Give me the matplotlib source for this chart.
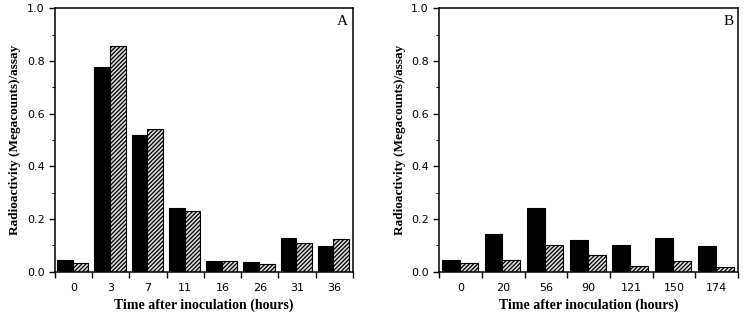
import numpy as np
import matplotlib.pyplot as plt
from matplotlib.ticker import MultipleLocator

# panel A
times_a = ["0", "3", "7", "11", "16", "26", "31", "36"]
solid_a = [0.045, 0.775, 0.520, 0.243, 0.042, 0.037, 0.128, 0.098]
hatched_a = [0.032, 0.855, 0.540, 0.230, 0.042, 0.028, 0.108, 0.125]

# panel B
times_b = ["0", "20", "56", "90", "121", "150", "174"]
solid_b = [0.045, 0.143, 0.243, 0.122, 0.102, 0.128, 0.098]
hatched_b = [0.032, 0.044, 0.102, 0.062, 0.022, 0.040, 0.018]

plt.rcParams['hatch.linewidth'] = 0.9
plt.rcParams['hatch.color'] = '#222222'

fig = plt.figure(figsize=(7.52, 3.21), dpi=100)
ax_a = fig.add_axes([0.0731, 0.1536, 0.396, 0.821])
ax_b = fig.add_axes([0.5842, 0.1536, 0.397, 0.821])


def draw_panel(ax, labels, solid, hatched, letter):
    x = np.arange(len(labels))
    w = 0.42
    ax.bar(x - 0.44, solid, width=w, align='edge', color='black', edgecolor='black', linewidth=0.8)
    ax.bar(x - 0.02, hatched, width=w, align='edge', color='#d8d8d8', edgecolor='black',
           hatch='////////', linewidth=0.8)

    ax.set_xlim(-0.5, len(labels) - 0.5)
    ax.set_ylim(0, 1.0)

    # x ticks sit on the group boundaries, labels in the middle
    ax.set_xticks(np.arange(len(labels) + 1) - 0.5)
    ax.set_xticklabels([])
    ax.set_xticks(x, minor=True)
    ax.set_xticklabels(labels, minor=True, fontsize=8, family='DejaVu Sans')
    ax.tick_params(axis='x', which='major', direction='out', length=4, width=1)
    ax.tick_params(axis='x', which='minor', length=0, pad=8)

    ax.yaxis.set_major_locator(MultipleLocator(0.2))
    ax.yaxis.set_minor_locator(MultipleLocator(0.1))
    ax.yaxis.set_ticks(np.arange(0, 1.01, 0.2))
    ax.set_yticklabels([f"{v:.1f}" for v in np.arange(0, 1.01, 0.2)], fontsize=8, family='DejaVu Sans')
    ax.tick_params(axis='y', which='major', direction='out', length=4, width=1)
    ax.tick_params(axis='y', which='minor', direction='out', length=2.5, width=0.8)

    for s in ax.spines.values():
        s.set_linewidth(1.1)

    ax.set_xlabel("Time after inoculation (hours)", family='Liberation Serif',
                  fontweight='bold', fontsize=10, labelpad=4)
    ax.set_ylabel("Radioactivity (Megacounts)/assay", family='Liberation Serif',
                  fontweight='bold', fontsize=9.5, labelpad=4)
    ax.text(0.985, 0.975, letter, transform=ax.transAxes, ha='right', va='top',
            family='Liberation Serif', fontsize=11)


draw_panel(ax_a, times_a, solid_a, hatched_a, "A")
draw_panel(ax_b, times_b, solid_b, hatched_b, "B")

fig.savefig("out.png", dpi=100)
